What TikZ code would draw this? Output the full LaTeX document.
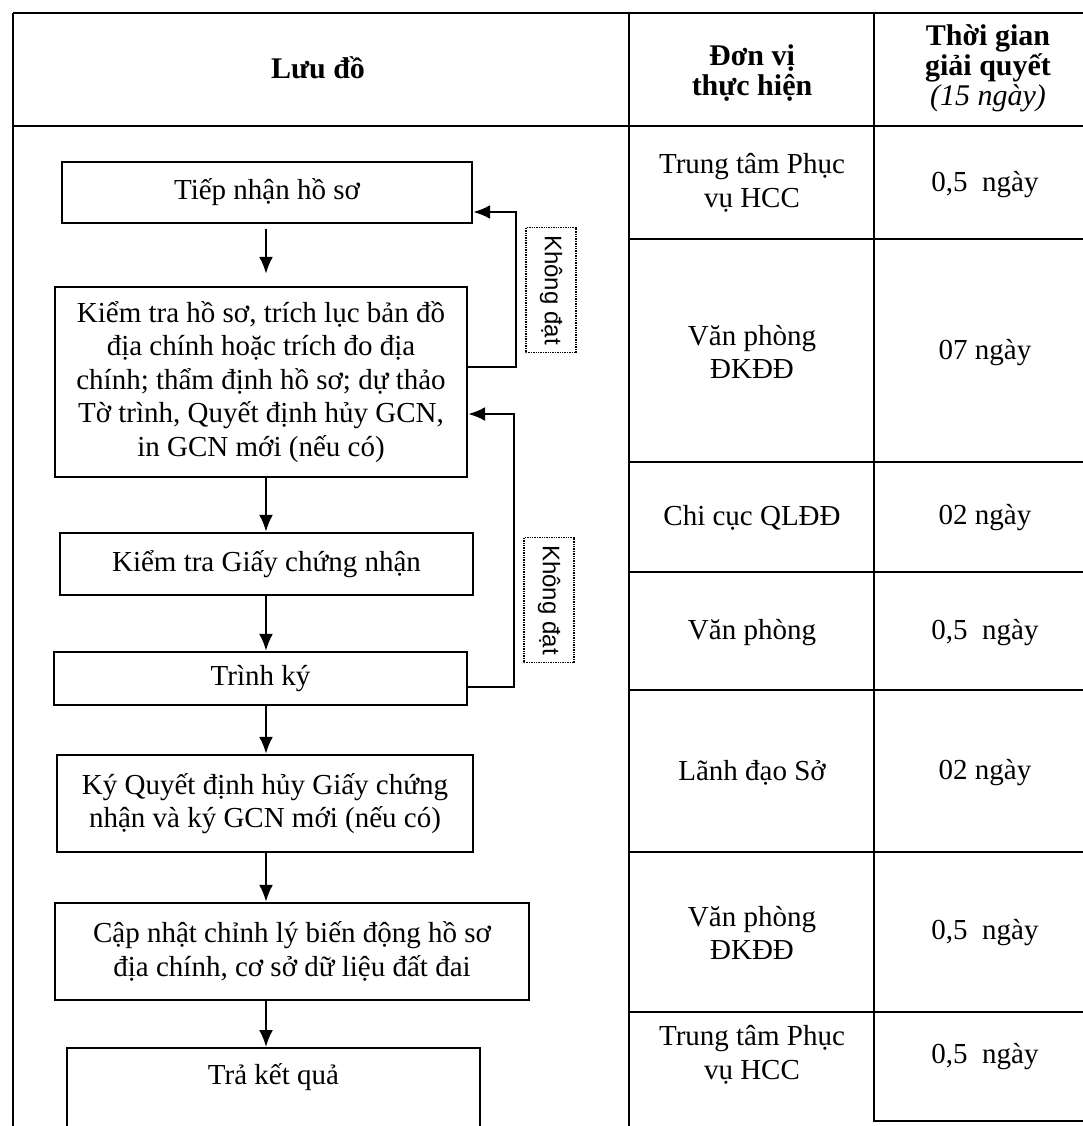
\documentclass[tikz,border=0pt]{standalone}
\usepackage{fontspec}
\setmainfont{Liberation Serif}
\newfontfamily\labelfont{Liberation Sans}
\usetikzlibrary{arrows.meta,positioning}

\begin{document}
\begin{tikzpicture}[x=1pt,y=-1pt,
  font=\fontsize{29}{33.5}\selectfont,
  box/.style={draw,line width=2.4pt,align=center,inner sep=0pt},
  arr/.style={line width=2.2pt,-{Latex[length=17pt,width=14pt]}},
  tag/.style={draw,densely dotted,line width=1.4pt,rotate=-90,inner sep=0pt,
    minimum width=125pt,minimum height=50pt,font=\labelfont\fontsize{24}{26}\selectfont},
  grid/.style={line width=2pt},
  hdr/.style={align=center,font=\fontsize{30}{30}\selectfont\bfseries},
  cell/.style={align=center}]
  \useasboundingbox (0,0) rectangle (1083,1126);
  \clip (0,0) rectangle (1083,1126);
  \fill[white] (0,0) rectangle (1083,1126);
  % Table frame
  \draw[grid] (13,13) -- (1100,13);
  \draw[grid] (13,126) -- (1100,126);
  \draw[grid] (13,13) -- (13,1130);
  \draw[grid] (629,13) -- (629,1130);
  \draw[grid] (874,13) -- (874,1121) -- (1100,1121);
  \foreach \y in {239,462,572,690,852,1012}
    \draw[grid] (629,\y) -- (1100,\y);
  % Header
  \node[hdr] (hd1) at (318,68) {Lưu đồ};
  \node[hdr] (hd2) at (752,73) {Đơn vị\\thực hiện};
  \node[hdr] (hd3) at (988,68) {Thời gian\\giải quyết\\\mdseries\itshape(15 ngày)};
  % Units and durations
  \node[cell] (dv1) at (752,183) {Trung tâm Phục\\vụ HCC};
  \node[cell] (tg1) at (985,185) {0,5~~ngày};
  \node[cell] (dv2) at (752,352) {Văn phòng\\ĐKĐĐ};
  \node[cell] (tg2) at (985,353) {07 ngày};
  \node[cell] (dv3) at (752,518) {Chi cục QLĐĐ};
  \node[cell] (tg3) at (985,518) {02 ngày};
  \node[cell] (dv4) at (752,633) {Văn phòng};
  \node[cell] (tg4) at (985,633) {0,5~~ngày};
  \node[cell] (dv5) at (752,773) {Lãnh đạo Sở};
  \node[cell] (tg5) at (985,773) {02 ngày};
  \node[cell] (dv6) at (752,933) {Văn phòng\\ĐKĐĐ};
  \node[cell] (tg6) at (985,933) {0,5~~ngày};
  \node[cell] (dv7) at (752,1055) {Trung tâm Phục\\vụ HCC};
  \node[cell] (tg7) at (985,1057) {0,5~~ngày};
  % Flow boxes
  \node[box,minimum width=410pt,minimum height=61pt] (b1) at (267,192.5) {Tiếp nhận hồ sơ};
  \node[box,minimum width=412pt,minimum height=190pt] (b2) at (261,382)
    {Kiểm tra hồ sơ, trích lục bản đồ\\địa chính hoặc trích đo địa\\chính; thẩm định hồ sơ; dự thảo\\Tờ trình, Quyết định hủy GCN,\\in GCN mới (nếu có)};
  \node[box,minimum width=413pt,minimum height=62pt] (b3) at (266.5,564) {Kiểm tra Giấy chứng nhận};
  \node[box,minimum width=413pt,minimum height=53pt] (b4) at (260.5,678.5) {Trình ký};
  \node[box,minimum width=416pt,minimum height=97pt] (b5) at (265,803.5)
    {Ký Quyết định hủy Giấy chứng\\nhận và ký GCN mới (nếu có)};
  \node[box,minimum width=474pt,minimum height=97pt] (b6) at (292,951.5)
    {Cập nhật chỉnh lý biến động hồ sơ\\địa chính, cơ sở dữ liệu đất đai};
  \node[box,anchor=north,minimum width=413pt,minimum height=130pt] (b7) at (273.5,1047) {};
  \node[below=16pt of b7.north,inner sep=0pt] (b7t) {Trả kết quả};
  % Main flow
  \coordinate (spine) at (266,0);
  \draw[arr,shorten <=5pt,shorten >=12pt] (b1.south -| spine) -- (b2.north -| spine);
  \draw[arr] (b2.south -| spine) -- (b3.north -| spine);
  \draw[arr] (b3.south -| spine) -- (b4.north -| spine);
  \draw[arr] (b4.south -| spine) -- (b5.north -| spine);
  \draw[arr] (b5.south -| spine) -- (b6.north -| spine);
  \draw[arr] (b6.south -| spine) -- (b7.north -| spine);
  % Return loops
  \coordinate (k1) at (516,367);
  \coordinate (k2) at (516,212);
  \draw[arr] (b2.east |- k1) -- (k1) -- (k2) -- (b1.east |- k2);
  \coordinate (k3) at (514,687);
  \coordinate (k4) at (514,414);
  \draw[arr] (b4.east |- k3) -- (k3) -- (k4) -- (b2.east |- k4);
  \node[tag] (t1) at (551,290) {Không đạt};
  \node[tag] (t2) at (549,600) {Không đạt};
\end{tikzpicture}
\end{document}
